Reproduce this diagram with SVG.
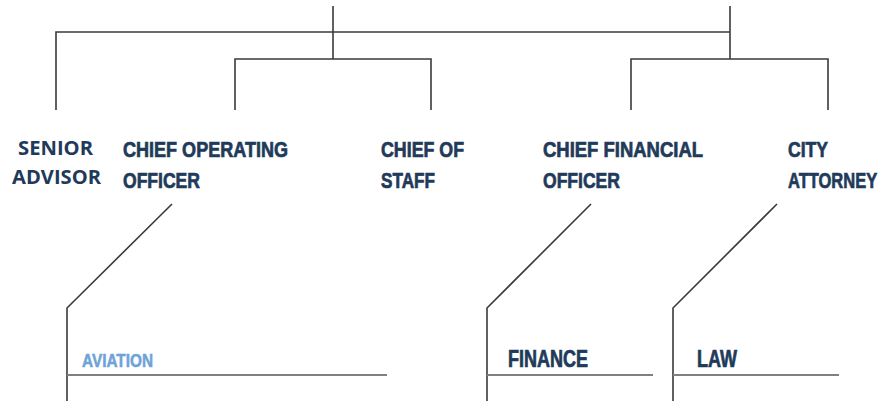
<svg xmlns="http://www.w3.org/2000/svg" width="886" height="401" viewBox="0 0 886 401">
<style>
.ln{fill:none;stroke:#3a3a3a;stroke-width:1.6}
.ln2{fill:none;stroke:#808080;stroke-width:2}
.t{font-family:"Liberation Sans",Arial,sans-serif;font-weight:bold;fill:#213a5a;stroke:#213a5a;stroke-width:0.7;font-size:22px}
.s{font-family:"Open Sans","Liberation Sans",sans-serif;font-weight:bold;fill:#213a5a;font-size:20px}
.d{font-family:"Liberation Sans",Arial,sans-serif;font-weight:bold;fill:#213a5a;stroke:#213a5a;stroke-width:0.7;font-size:23px}
.a{font-family:"Liberation Sans",Arial,sans-serif;font-weight:bold;fill:#6fa3d8;stroke:#6fa3d8;stroke-width:0.5;font-size:17.5px}
</style>
<rect width="886" height="401" fill="#ffffff"/>
<g id="connectors">
<path class="ln" d="M333 6V59M56 110V32H730M730 6V59M235 110V59H431V110M631 110V59H828V110"/>
<path class="ln" d="M172 204L67 308V401M591 204L487 308V401M777 204L673 308V401"/>
<path class="ln2" d="M67 375H387M487 375H653M673 375H839"/>
</g>
<g id="senior-advisor">
<text class="s" x="18" y="155" textLength="75" lengthAdjust="spacingAndGlyphs">SENIOR</text>
<text class="s" x="12" y="184" textLength="89" lengthAdjust="spacingAndGlyphs">ADVISOR</text>
</g>
<g id="coo">
<text class="t" x="123" y="157" textLength="165" lengthAdjust="spacingAndGlyphs">CHIEF OPERATING</text>
<text class="t" x="123" y="188" textLength="77" lengthAdjust="spacingAndGlyphs">OFFICER</text>
</g>
<g id="chief-of-staff">
<text class="t" x="381" y="157" textLength="83" lengthAdjust="spacingAndGlyphs">CHIEF OF</text>
<text class="t" x="381" y="188" textLength="54" lengthAdjust="spacingAndGlyphs">STAFF</text>
</g>
<g id="cfo">
<text class="t" x="543" y="157" textLength="160" lengthAdjust="spacingAndGlyphs">CHIEF FINANCIAL</text>
<text class="t" x="543" y="188" textLength="77" lengthAdjust="spacingAndGlyphs">OFFICER</text>
</g>
<g id="city-attorney">
<text class="t" x="788" y="157" textLength="40" lengthAdjust="spacingAndGlyphs">CITY</text>
<text class="t" transform="translate(788 188) scale(0.75 1)" x="0" y="0">ATTORNEY</text>
</g>
<g id="aviation">
<text class="a" x="82" y="367" textLength="71" lengthAdjust="spacingAndGlyphs">AVIATION</text>
</g>
<g id="finance">
<text class="d" x="508" y="367" textLength="80" lengthAdjust="spacingAndGlyphs">FINANCE</text>
</g>
<g id="law">
<text class="d" x="697" y="367" textLength="40" lengthAdjust="spacingAndGlyphs">LAW</text>
</g>
</svg>
